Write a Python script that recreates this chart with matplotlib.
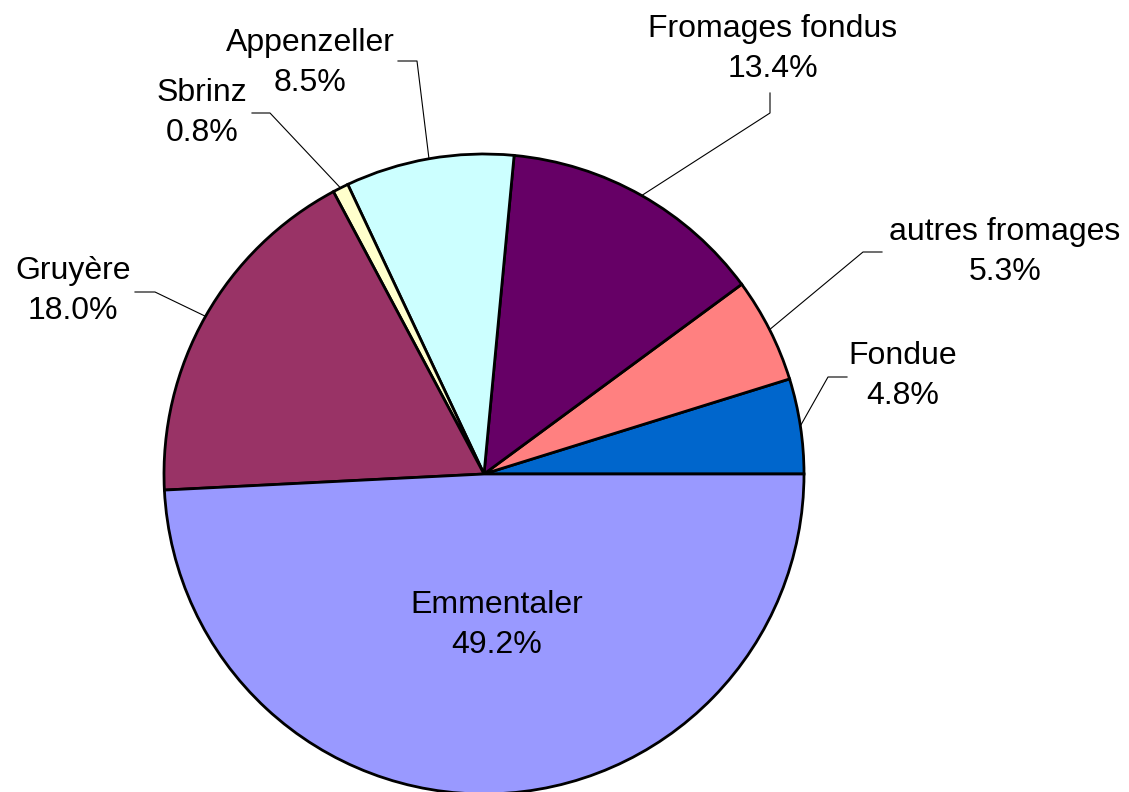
import numpy as np
import matplotlib
matplotlib.use('Agg')
from matplotlib import pyplot as plt

# Data: slices counter-clockwise from 3 o'clock
labels = ['Fondue', 'autres fromages', 'Fromages fondus', 'Appenzeller',
          'Sbrinz', 'Gruyère', 'Emmentaler']
shares = [4.8, 5.3, 13.4, 8.5, 0.8, 18.0, 49.2]
colors = ['#0066CC', '#FF8080', '#660066', '#CCFFFF',
          '#FFFFCC', '#993366', '#9999FF']

W, H = 1129, 792
CX, CY, R = 484, H - 474, 320

# label layout (pixels, y up): text centre, leader elbow, leader end
layout = {
    'Fondue':          ((903, H - 376), (828, H - 377), (847, H - 377)),
    'autres fromages': ((1005, H - 252), (863, H - 252), (882, H - 252)),
    'Fromages fondus': ((773, H - 49), (770, H - 113), (770, H - 93)),
    'Appenzeller':     ((310, H - 63), (417, H - 61), (398, H - 61)),
    'Sbrinz':          ((202, H - 113), (270, H - 113), (252, H - 113)),
    'Gruyère':         ((73, H - 291), (155, H - 292), (135, H - 292)),
}

plt.rcParams['font.family'] = ['Liberation Sans', 'DejaVu Sans']

fig = plt.figure(figsize=(W / 100, H / 100), dpi=100)
ax = fig.add_axes([0, 0, 1, 1])

wedges, _ = ax.pie(shares, colors=colors, startangle=0, counterclock=True,
                   center=(CX, CY), radius=R, frame=True,
                   wedgeprops=dict(edgecolor='black', linewidth=2))
ax.set_xlim(0, W)
ax.set_ylim(0, H)
ax.set_aspect('equal')
ax.axis('off')

FS = 23
for w, name, val in zip(wedges, labels, shares):
    text = '%s\n%.1f%%' % (name, val)
    if name == 'Emmentaler':
        ax.text(497, H - 625, text, ha='center', va='center', fontsize=FS,
                linespacing=1.45)
        continue
    mid = np.deg2rad((w.theta1 + w.theta2) / 2)
    ex, ey = CX + R * np.cos(mid), CY + R * np.sin(mid)
    (tx, ty), (bx, by), (lx, ly) = layout[name]
    ax.plot([ex, bx, lx], [ey, by, ly], color='black', lw=0.8)
    ax.text(tx, ty, text, ha='center', va='center', fontsize=FS,
            linespacing=1.45)

fig.savefig('out.png', dpi=100)
